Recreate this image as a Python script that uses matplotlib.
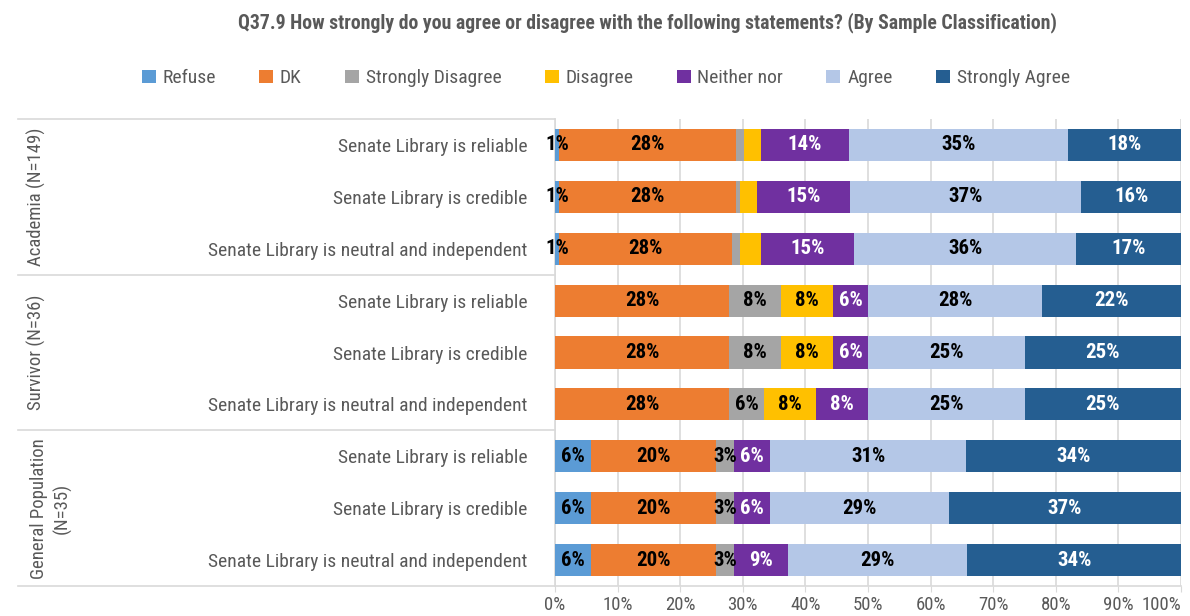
import matplotlib
matplotlib.use("Agg")
import matplotlib.pyplot as plt
import numpy as np

plt.rcParams['font.family'] = ['Roboto Condensed', 'Open Sans Condensed', 'DejaVu Sans Condensed',
                               'Liberation Sans Narrow', 'Roboto', 'DejaVu Sans']
plt.rcParams['font.stretch'] = 'condensed'

title = "Q37.9 How strongly do you agree or disagree with the following statements? (By Sample Classification)"

categories = ["Refuse", "DK", "Strongly Disagree", "Disagree", "Neither nor", "Agree", "Strongly Agree"]
colors = ["#5B9BD5", "#ED7D31", "#A5A5A5", "#FFC000", "#7030A0", "#B4C7E7", "#255E91"]
label_colors = ["black", "black", "black", "black", "white", "black", "white"]

statements = ["Senate Library is reliable",
              "Senate Library is credible",
              "Senate Library is neutral and independent"]
groups = ["Academia (N=149)", "Survivor (N=36)", "General Population\n(N=35)"]

# percent of respondents per row (rows: group x statement), columns follow `categories`
academia = [
    [0.7, 28.2, 1.3, 2.7, 14.1, 34.9, 18.1],
    [0.7, 28.2, 0.7, 2.7, 14.8, 36.9, 16.1],
    [0.7, 27.5, 1.3, 3.4, 14.8, 35.6, 16.8],
]
survivor = [
    [0.0, 27.8, 8.3, 8.3, 5.6, 27.8, 22.2],
    [0.0, 27.8, 8.3, 8.3, 5.6, 25.0, 25.0],
    [0.0, 27.8, 5.6, 8.3, 8.3, 25.0, 25.0],
]
general = [
    [5.7, 20.0, 2.9, 0.0, 5.7, 31.4, 34.3],
    [5.7, 20.0, 2.9, 0.0, 5.7, 28.6, 37.1],
    [5.7, 20.0, 2.9, 0.0, 8.6, 28.6, 34.3],
]
# segments whose value labels are left off (Academia's small disagree shares)
hidden_labels = {(0, 2), (0, 3), (1, 2), (1, 3), (2, 2), (2, 3)}

data = np.array(academia + survivor + general)
n_rows = data.shape[0]
row_labels = statements * 3
ypos = np.arange(n_rows)

fig = plt.figure(figsize=(11.9, 6.16), dpi=100)
ax = fig.add_axes([555 / 1190, 30 / 616, 626 / 1190, 467 / 616])

left = np.zeros(n_rows)
for j, (cat, col) in enumerate(zip(categories, colors)):
    vals = data[:, j]
    ax.barh(ypos, vals, left=left, height=0.62, color=col, label=cat, zorder=3)
    for i in range(n_rows):
        v = vals[i]
        if v <= 0 or (i, j) in hidden_labels:
            continue
        ax.text(left[i] + v / 2, ypos[i], f"{round(v):.0f}%", ha="center", va="center",
                fontsize=15, fontweight="bold", color=label_colors[j], zorder=4)
    left += vals

ax.set_xlim(0, 100)
ax.set_ylim(n_rows - 0.5, -0.5)
ax.set_xticks(np.arange(0, 101, 10))
ax.set_xticklabels([f"{t}%" for t in range(0, 101, 10)], fontsize=13.5, color="#595959")
ax.get_xticklabels()[-1].set_horizontalalignment("right")
ax.set_yticks(ypos)
ax.set_yticklabels(row_labels, fontsize=14, color="#595959")
ax.tick_params(axis="y", length=0, pad=20)
ax.tick_params(axis="x", length=4, color="#D9D9D9")
ax.grid(axis="x", color="#D9D9D9", linewidth=1.2, zorder=0)
for s in ["top", "right"]:
    ax.spines[s].set_visible(False)
for s in ["left", "bottom"]:
    ax.spines[s].set_color("#D9D9D9")
    ax.spines[s].set_linewidth(1.2)

# group separators and group names on the left
ytrans = ax.get_yaxis_transform()
for yb in [-0.5, 2.5, 5.5, 8.5]:
    ax.plot([-0.858, 0], [yb, yb], transform=ytrans, color="#D9D9D9",
            linewidth=1.2, clip_on=False, zorder=1)
group_x = [-0.829, -0.829, -0.805]
for g, name in enumerate(groups):
    ax.text(group_x[g], 3 * g + 1, name, transform=ytrans, rotation=90,
            ha="center", va="center", fontsize=13.5, color="#595959",
            linespacing=1.3, multialignment="center")

fig.text(0.544, 0.963, title, ha="center", va="center", fontsize=14.2,
         fontweight="semibold", color="#595959")
fig.legend(loc="center", bbox_to_anchor=(0.509, 0.873), ncol=7, frameon=False,
           fontsize=14, handlelength=0.72, handleheight=0.62, handletextpad=0.35,
           columnspacing=2.22, labelcolor="#595959")

fig.savefig("out.png", dpi=100)
